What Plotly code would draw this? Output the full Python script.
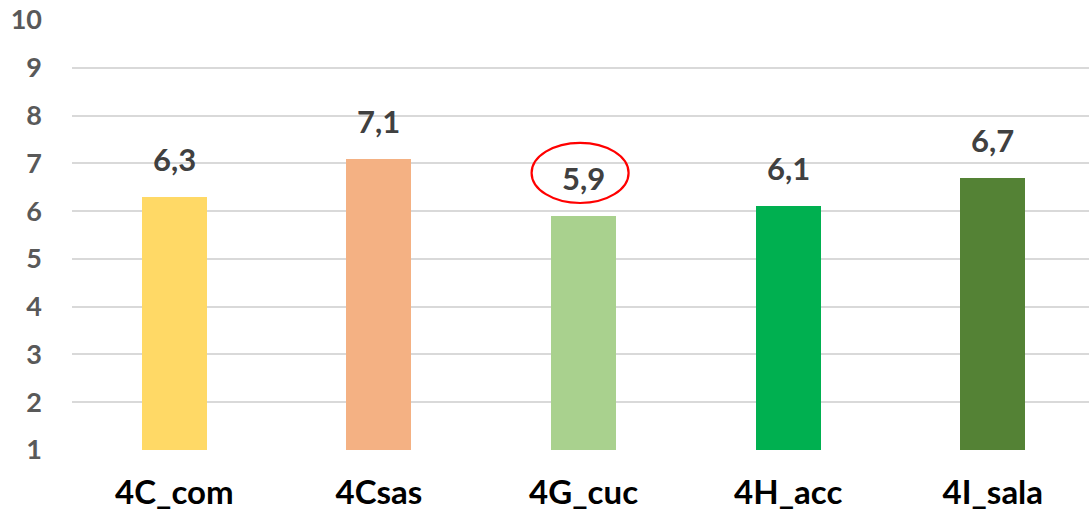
import plotly.graph_objects as go

categories = ["4C_com", "4Csas", "4G_cuc", "4H_acc", "4I_sala"]
values = [6.3, 7.1, 5.9, 6.1, 6.7]
value_labels = ["6,3", "7,1", "5,9", "6,1", "6,7"]
colors = ["#FFD966", "#F4B183", "#A9D18E", "#00B050", "#548235"]
y_ticks = [1, 2, 3, 4, 5, 6, 7, 8, 9, 10]

FONT = "Lato"

fig = go.Figure()
fig.add_trace(go.Bar(
    x=categories, y=values, marker=dict(color=colors, line=dict(width=0)),
    width=0.318, hoverinfo="skip",
))

for c, v, t in zip(categories, values, value_labels):
    fig.add_annotation(
        x=c, y=v, text=t, showarrow=False, yanchor="bottom",
        yshift=17, font=dict(family=FONT, size=31, color="#404040", weight="bold"),
    )

# highlight ellipse around the 4G_cuc label
fig.add_shape(
    type="circle", xref="x", yref="y",
    x0=1.746, x1=2.22, y0=6.17, y1=7.43,
    line=dict(color="#FF0000", width=2.2), fillcolor="rgba(0,0,0,0)",
)

fig.update_layout(
    width=1089, height=515,
    margin=dict(l=72, r=0, t=20, b=65),
    paper_bgcolor="white", plot_bgcolor="white",
    showlegend=False,
    bargap=0,
)
fig.update_xaxes(
    range=[-0.5, 4.47], showgrid=False, showline=False, zeroline=False,
    tickfont=dict(family=FONT, size=33, color="#000000", weight="bold"),
    ticks="", ticklabelstandoff=20,
)
fig.update_yaxes(
    range=[1, 10], tickvals=y_ticks, showgrid=True, gridcolor="#D9D9D9",
    gridwidth=2, zeroline=False, showline=False,
    tickfont=dict(family=FONT, size=27, color="#595959", weight="bold"),
    ticks="", ticklabelstandoff=29,
)

fig.write_html(
    "out.html",
    config={"displayModeBar": False},
    post_script="document.body.style.margin='0';document.body.style.overflow='hidden';",
)
